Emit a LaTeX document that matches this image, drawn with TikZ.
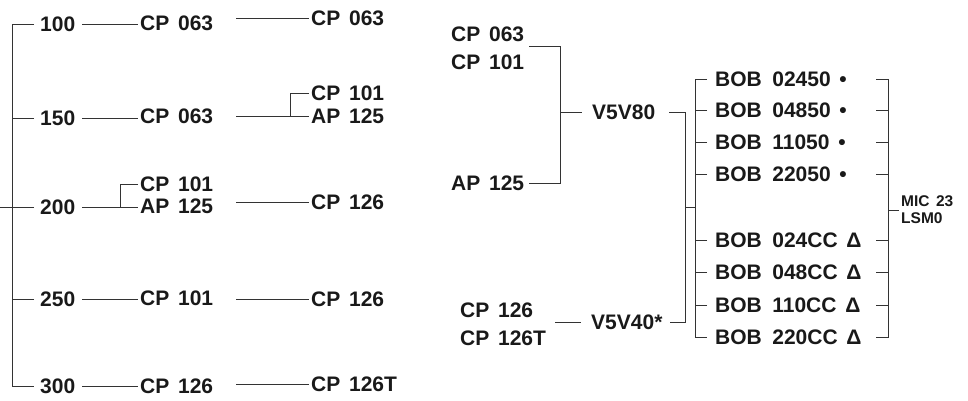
\documentclass[tikz,border=0pt]{standalone}
\usepackage{fontspec}
\setmainfont{Liberation Sans}[WordSpace=1.5]
\usetikzlibrary{calc}

\begin{document}
\begin{tikzpicture}[x=1pt,y=-1pt,
  lbl/.style={anchor=west,inner sep=2pt,text=black!90,font=\bfseries\fontsize{21}{24}\selectfont},
  small/.style={anchor=west,inner sep=2pt,align=left,text=black!90,font=\bfseries\fontsize{15.5}{17.3}\selectfont},
  wire/.style={line width=0.9pt,black!80}]
  \useasboundingbox (0,0) rectangle (968,401);
  %\draw[help lines,step=50] (0,0) grid (968,401);

% left tree
\node[lbl] (n100) at (38,24.5) {100};
\node[lbl] (n150) at (38,118) {150};
\node[lbl] (n200) at (38,207.5) {200};
\node[lbl] (n250) at (38,299) {250};
\node[lbl] (n300) at (38,386) {300};

\node[lbl] (c100) at (138,23) {CP 063};
\node[lbl] (c150) at (138,116.5) {CP 063};
\node[lbl] (c200a) at (138,184.5) {CP 101};
\node[lbl] (c200b) at (138,206.5) {AP 125};
\node[lbl] (c250) at (138,298.5) {CP 101};
\node[lbl] (c300) at (138,386) {CP 126};

\node[lbl] (d100) at (309,18) {CP 063};
\node[lbl] (d150a) at (309,93.5) {CP 101};
\node[lbl] (d150b) at (309,116) {AP 125};
\node[lbl] (d200) at (309,202) {CP 126};
\node[lbl] (d250) at (309,299) {CP 126};
\node[lbl] (d300) at (309,384) {CP 126T};

\coordinate (in) at (0,207.5);
\draw[wire] (in) -- ([xshift=-26pt]n200.west);
\draw[wire] ([xshift=-4pt]n100.west) -- ++(-22,0) |- ([xshift=-4pt]n300.west);
\foreach \a in {n150,n200,n250}
  \draw[wire] ([xshift=-4pt]\a.west) -- ++(-22,0);

\foreach \a/\b in {n100/c100,n150/c150,n200/c200b,n250/c250,n300/c300}
  \draw[wire] ([xshift=5pt]\a.east) -- (\a.east -| \b.west);
\foreach \a/\b in {c100/d100,c150/d150b,c200b/d200,c250/d250,c300/d300}
  \draw[wire] ([xshift=21pt]\a.east |- \b.west) -- (\b.west);

\draw[wire] (c200a.west) -- ++(-18,0) coordinate (k200) -- (k200 |- c200b.west);
\draw[wire] (d150a.west) -- ++(-19,0) coordinate (k150) -- (k150 |- d150b.west);

% right tree
\node[lbl] (e1) at (449,34) {CP 063};
\node[lbl] (e2) at (449,62.5) {CP 101};
\node[lbl] (e3) at (449,183.5) {AP 125};
\node[lbl] (v80) at (590,112.5) {V5V80};
\node[lbl] (f1) at (458,310.5) {CP 126};
\node[lbl] (f2) at (458,338) {CP 126T};
\node[lbl] (v40) at (589,322.5) {V5V40*};

\draw[wire] ([xshift=3pt,yshift=-12.5pt]e1.east) -- ++(31,0) coordinate (k1) |- ([xshift=3pt]e3.east);
\draw[wire] (k1 |- v80.west) -- ([xshift=-8pt]v80.west);
\draw[wire] ([xshift=20pt]f1.east |- v40.west) -- ([xshift=-8pt]v40.west);
\draw[wire] ([xshift=12pt]v80.east) -- ++(16,0) coordinate (k2) |- ([xshift=5pt]v40.east);

\foreach \i/\y/\t in {1/79.5/02450 •,2/110.5/04850 •,3/142.5/11050 •,4/174.5/22050 •,
    5/240.5/024CC Δ,6/272/048CC Δ,7/305.5/110CC Δ,8/337.5/220CC Δ}
  \node[lbl] (b\i) at (713,\y) {BOB\enskip\t};

\draw[wire] ([xshift=-6pt]b1.west) -- ++(-12,0) |- ([xshift=-6pt]b8.west);
\foreach \i in {2,...,7}
  \draw[wire] ([xshift=-6pt]b\i.west) -- ++(-12,0);
\coordinate (bmid) at ($([xshift=-18pt]b4.west)!0.5!([xshift=-18pt]b5.west)$);
\draw[wire] (bmid) -- (k2 |- bmid);

\draw[wire] ([xshift=163pt]b1.west) -- ++(12,0) coordinate (k3) |- ([xshift=163pt]b8.west);
\foreach \i in {2,...,7}
  \draw[wire] ([xshift=163pt]b\i.west) -- ++(12,0);

\node[small] (mic) at (899,210) {MIC 23\\LSM0};
\draw[wire] (k3 |- mic.west) -- (mic.west);
\end{tikzpicture}
\end{document}
